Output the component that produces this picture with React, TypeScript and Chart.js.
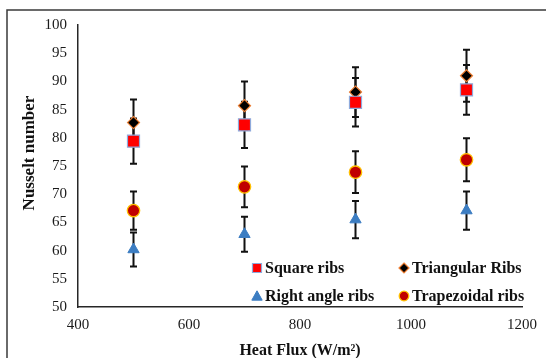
import React, { useEffect, useRef } from 'react';
import { Chart, registerables } from 'chart.js';

Chart.register(...registerables);

const heatFlux = [500, 700, 900, 1100];
const seriesNames = ['Square ribs', 'Triangular Ribs', 'Right angle ribs', 'Trapezoidal ribs'];
const squareRibs = [79.4, 82.3, 86.3, 88.5];
const squareErr = [4.0, 4.1, 4.3, 4.4];
const triangularRibs = [82.7, 85.7, 88.1, 91.0];
const triangularErr = [4.1, 4.3, 4.4, 4.6];
const rightAngleRibs = [60.2, 62.9, 65.5, 67.1];
const rightAngleErr = [3.0, 3.1, 3.3, 3.4];
const trapezoidalRibs = [67.1, 71.3, 73.9, 76.1];
const trapezoidalErr = [3.4, 3.6, 3.7, 3.8];
const xTickValues = [400, 600, 800, 1000, 1200];
const yTickValues = [50, 55, 60, 65, 70, 75, 80, 85, 90, 95, 100];
const xTitle = 'Heat Flux (W/m\u00B2)';
const yTitle = 'Nusselt number';

const SERIF = '"Liberation Serif", "Times New Roman", serif';

const styles = [
  { pointStyle: 'rect', radius: 8.5, bg: '#FF0000', border: '#8FAADC', bw: 1.2 },
  { pointStyle: 'rectRot', radius: 6, bg: '#000000', border: '#ED7D31', bw: 1.2 },
  { pointStyle: 'triangle', radius: 6.5, bg: '#3C7DC2', border: '#3C7DC2', bw: 1 },
  { pointStyle: 'circle', radius: 6.2, bg: '#C00000', border: '#FFC000', bw: 1.3 },
];

const errorSets = [squareErr, triangularErr, rightAngleErr, trapezoidalErr];

function drawMarker(ctx: CanvasRenderingContext2D, style: string, x: number, y: number, r: number, bg: string, border: string, bw: number) {
  ctx.save();
  ctx.beginPath();
  if (style === 'rect') {
    ctx.rect(x - r, y - r, 2 * r, 2 * r);
  } else if (style === 'rectRot') {
    ctx.moveTo(x, y - r);
    ctx.lineTo(x + r, y);
    ctx.lineTo(x, y + r);
    ctx.lineTo(x - r, y);
    ctx.closePath();
  } else if (style === 'triangle') {
    ctx.moveTo(x, y - r);
    ctx.lineTo(x + r, y + r * 0.8);
    ctx.lineTo(x - r, y + r * 0.8);
    ctx.closePath();
  } else {
    ctx.arc(x, y, r, 0, Math.PI * 2);
  }
  ctx.fillStyle = bg;
  ctx.fill();
  ctx.lineWidth = bw;
  ctx.strokeStyle = border;
  ctx.stroke();
  ctx.restore();
}

const errorBarPlugin = {
  id: 'errorBars',
  beforeDatasetsDraw(chart: any) {
    const { ctx, scales } = chart;
    const xs = scales.x;
    const ys = scales.y;
    ctx.save();
    ctx.strokeStyle = '#111111';
    ctx.lineWidth = 2;
    chart.data.datasets.forEach((ds: any, i: number) => {
      const errs = errorSets[i];
      ds.data.forEach((pt: any, j: number) => {
        const px = xs.getPixelForValue(pt.x);
        const top = ys.getPixelForValue(pt.y + errs[j]);
        const bot = ys.getPixelForValue(pt.y - errs[j]);
        ctx.beginPath();
        ctx.moveTo(px, top);
        ctx.lineTo(px, bot);
        ctx.moveTo(px - 3.5, top);
        ctx.lineTo(px + 3.5, top);
        ctx.moveTo(px - 3.5, bot);
        ctx.lineTo(px + 3.5, bot);
        ctx.stroke();
      });
    });
    ctx.restore();
  },
};

const decorPlugin = {
  id: 'decor',
  afterDraw(chart: any) {
    const { ctx, chartArea } = chart;
    ctx.save();
    // outer frame
    ctx.strokeStyle = '#3a3a3a';
    ctx.lineWidth = 1.5;
    ctx.beginPath();
    ctx.moveTo(7, 358);
    ctx.lineTo(7, 10);
    ctx.lineTo(546, 10);
    ctx.stroke();

    // y axis title
    ctx.fillStyle = '#111111';
    ctx.font = 'bold 17px ' + SERIF;
    ctx.textAlign = 'center';
    ctx.textBaseline = 'middle';
    ctx.translate(30, 153);
    ctx.rotate(-Math.PI / 2);
    ctx.fillText(yTitle, 0, 0);
    ctx.restore();

    // legend
    ctx.save();
    ctx.font = 'bold 16px ' + SERIF;
    ctx.textAlign = 'left';
    ctx.textBaseline = 'middle';
    ctx.fillStyle = '#111111';
    const baseX = chartArea.left;
    const cols = [baseX + 179, baseX + 326];
    const rows = [chartArea.bottom - 39, chartArea.bottom - 11];
    chart.data.datasets.forEach((ds: any, i: number) => {
      const col = cols[i % 2];
      const row = rows[Math.floor(i / 2)];
      const s = styles[i];
      const r = s.pointStyle === 'rect' ? 4.5 : s.pointStyle === 'rectRot' ? 5 : s.pointStyle === 'triangle' ? 5.2 : 4.8;
      drawMarker(ctx, s.pointStyle, col, row, r, s.bg, s.border, s.bw);
      ctx.fillStyle = '#111111';
      ctx.fillText(ds.label, col + 8, row + 1);
    });
    ctx.restore();
  },
};

export default function App() {
  const canvasRef = useRef<HTMLCanvasElement | null>(null);

  useEffect(() => {
    if (!canvasRef.current) return;
    const seriesValues = [squareRibs, triangularRibs, rightAngleRibs, trapezoidalRibs];
    const datasets = seriesValues.map((vals, i) => ({
      label: seriesNames[i],
      data: heatFlux.map((x, j) => ({ x, y: vals[j] })),
      showLine: false,
      pointStyle: styles[i].pointStyle,
      pointRadius: styles[i].radius,
      pointHoverRadius: styles[i].radius,
      backgroundColor: styles[i].bg,
      borderColor: styles[i].border,
      pointBorderWidth: styles[i].bw,
      borderWidth: styles[i].bw,
    }));

    const chart = new Chart(canvasRef.current, {
      type: 'scatter',
      data: { datasets: datasets as any },
      options: {
        responsive: false,
        animation: false,
        layout: { padding: { left: 0, top: 25, right: 24, bottom: 0 } },
        plugins: {
          legend: { display: false },
          tooltip: { enabled: false },
        },
        scales: {
          x: {
            type: 'linear',
            min: xTickValues[0],
            max: xTickValues[xTickValues.length - 1],
            afterBuildTicks: (scale: any) => {
              scale.ticks = xTickValues.map((v) => ({ value: v }));
            },
            afterFit: (scale: any) => {
              scale.height = 51;
            },
            grid: { display: false, drawTicks: false },
            border: { display: true, color: '#262626', width: 1.5 },
            ticks: {
              padding: 9,
              color: '#1a1a1a',
              font: { family: SERIF, size: 15 },
              maxRotation: 0,
              callback: (v: any) => String(v),
            },
            title: {
              display: true,
              text: xTitle,
              color: '#111111',
              font: { family: SERIF, size: 16, weight: 'bold' },
              padding: { top: 0, bottom: -2 },
            },
          },
          y: {
            type: 'linear',
            min: yTickValues[0],
            max: yTickValues[yTickValues.length - 1],
            afterBuildTicks: (scale: any) => {
              scale.ticks = yTickValues.map((v) => ({ value: v }));
            },
            afterFit: (scale: any) => {
              scale.width = 78;
            },
            grid: { display: false, drawTicks: false },
            border: { display: true, color: '#262626', width: 1.5 },
            ticks: {
              padding: 11,
              color: '#1a1a1a',
              font: { family: SERIF, size: 15 },
              callback: (v: any) => String(v),
            },
          },
        },
      },
      plugins: [errorBarPlugin, decorPlugin],
    });
    return () => chart.destroy();
  }, []);

  return (
    <div style={{ position: 'absolute', left: 0, top: 0, width: 546, height: 358, background: '#ffffff' }}>
      <canvas ref={canvasRef} width={546} height={358} />
    </div>
  );
}
